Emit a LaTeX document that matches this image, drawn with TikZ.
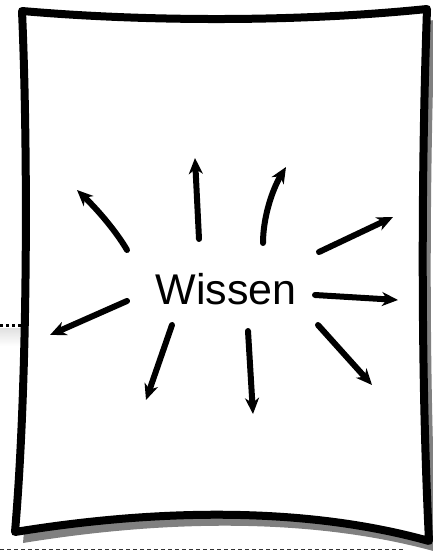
\documentclass[tikz,border=0pt]{standalone}
\usepackage{fontspec}
\setmainfont{Liberation Sans}
\usetikzlibrary{arrows.meta}
\begin{document}
\begin{tikzpicture}[x=1pt,y=-1pt,
  ray/.style={line width=6pt,line cap=round,-{Stealth[length=16pt,width=14pt,inset=5pt]}},
  framepath/.style={line width=8pt,line join=round}]
\useasboundingbox (0,0) rectangle (433,551);
\begin{scope}
\clip (0,0) rectangle (433,551);
% left dotted connector and faint shadow
\shade[top color=black!12,bottom color=white] (0,328) rectangle (24,346);
\draw[line width=3pt,dash pattern=on 3pt off 3pt] (0,325) -- (24,325);
% bottom dashed line
\draw[line width=1.2pt,dash pattern=on 4pt off 3pt,black!80] (0,549.5) -- (405,549.5);
% shadow
\fill[black!50,shift={(8,11)}] (22,11) .. controls (150,22) and (300,22) .. (427,9)
  .. controls (421,180) and (421,380) .. (429,541)
  .. controls (300,505) and (150,510) .. (15,532)
  .. controls (28,380) and (28,150) .. (22,11) -- cycle;
% frame
\draw[framepath,fill=white] (22,11) .. controls (150,22) and (300,22) .. (427,9)
  .. controls (421,180) and (421,380) .. (429,541)
  .. controls (300,505) and (150,510) .. (15,532)
  .. controls (28,380) and (28,150) .. (22,11) -- cycle;
\end{scope}
\node[font=\fontsize{43}{50}\selectfont,inner sep=0pt] (w) at (226,289) {Wissen};
% rays
\coordinate (a1s) at (127,250); \coordinate (a1e) at (77,190);
\coordinate (a2s) at (199,239); \coordinate (a2e) at (195,158);
\coordinate (a3s) at (263,243); \coordinate (a3e) at (286,167);
\coordinate (a4s) at (319,252); \coordinate (a4e) at (393,217);
\coordinate (a5s) at (315,295); \coordinate (a5e) at (398,300);
\coordinate (a6s) at (318,325); \coordinate (a6e) at (372,385);
\coordinate (a7s) at (248,331); \coordinate (a7e) at (253,414);
\coordinate (a8s) at (172,325); \coordinate (a8e) at (146,400);
\coordinate (a9s) at (127,301); \coordinate (a9e) at (50,335);
\draw[ray] (a1s) .. controls (119,236) and (102,214) .. (a1e);
\draw[ray] (a2s) -- (a2e);
\draw[ray] (a3s) .. controls (263,218) and (272,190) .. (a3e);
\draw[ray] (a4s) -- (a4e);
\draw[ray] (a5s) -- (a5e);
\draw[ray] (a6s) -- (a6e);
\draw[ray] (a7s) -- (a7e);
\draw[ray] (a8s) -- (a8e);
\draw[ray] (a9s) -- (a9e);
\end{tikzpicture}
\end{document}
